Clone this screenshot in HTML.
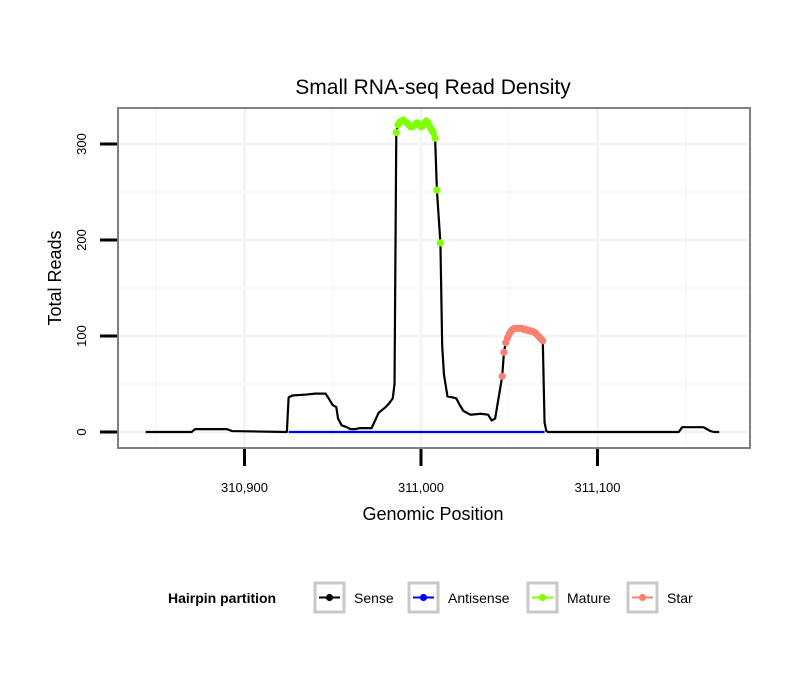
<!DOCTYPE html>
<html><head><meta charset="utf-8"><style>
body{margin:0;background:#fff;font-family:"Liberation Sans",sans-serif}
svg text{font-family:"Liberation Sans",sans-serif}
</style></head><body>
<svg id="chart" width="810" height="690" xmlns="http://www.w3.org/2000/svg">
<rect width="810" height="690" fill="#fff"/>
<text x="433" y="94" font-size="21" text-anchor="middle">Small RNA-seq Read Density</text>
<g id="grid"></g>
<g id="series"></g>
<rect x="118" y="108" width="632" height="340" fill="none" stroke="#808080" stroke-width="2"/>
<g id="axes"></g>
<text x="433" y="520" font-size="18" text-anchor="middle">Genomic Position</text>
<text transform="translate(61,278) rotate(-90)" font-size="18" text-anchor="middle">Total Reads</text>
<g id="legend">
<text x="168" y="603" font-size="14" font-weight="bold">Hairpin partition</text>
</g>
</svg>
<script>
const senseBasePos=[310844,310870,310872,310890,310893,310924,310925,310927,310935,310940,310946,310948,310950,310952,310953,310955,310958,310960,310963,310965,310972,310974,310976,310978,310980,310982,310984,310985,
311012,311013,311015,311018,311020,311022,311024,311026,311028,311034,311038,311040,311042,311043,
311070,311071,311072,311146,311148,311160,311162,311164,311166,311169];
const senseBaseVal=[0,0,3,3,1,0,36,38,39,40,40,34,28,26,14,7,5,3,3,4,4,12,20,23,26,30,35,50,
90,60,37,36,35,28,22,20,18,19,18,12,14,25,
10,1,0,0,5,5,3,1,0,0];
const maturePos=[310986,310987,310988,310989,310990,310991,310992,310993,310994,310995,310996,310997,310998,310999,311000,311001,311002,311003,311004,311005,311006,311007,311008,311009,311011];
const matureVal=[312,320,323,324,325,323,322,320,318,318,319,321,322,320,318,319,322,324,322,318,315,312,306,252,197];
const starPos=[311046,311047,311048,311049,311050,311051,311052,311053,311054,311055,311056,311057,311058,311059,311060,311061,311062,311063,311064,311065,311066,311067,311068,311069];
const starVal=[58,83,93,98,102,105,107,108,108,108,108,108,107,107,106,106,105,105,104,103,101,99,97,95];
const antisensePos=[310925,311070];
const antisenseVal=[0,0];
const xTicks=[310900,311000,311100];
const xTickLabels=["310,900","311,000","311,100"];
const yTicks=[0,100,200,300];
const yTickLabels=["0","100","200","300"];
const legendLabels=["Sense","Antisense","Mature","Star"];
const legendColors=["#000000","#0000ff","#7fff00","#fa8072"];

const xs=p=>421+(p-311000)*1.765;
const ys=v=>432-v*0.96;
const NS="http://www.w3.org/2000/svg";
function mk(parent,tag,attrs){const e=document.createElementNS(NS,tag);for(const k in attrs)e.setAttribute(k,attrs[k]);parent.appendChild(e);return e;}
const grid=document.getElementById('grid'),series=document.getElementById('series'),axes=document.getElementById('axes'),legend=document.getElementById('legend');
for(let i=0;i<xTicks.length;i++){
  let l=mk(grid,'line',{x1:xs(xTicks[i]),x2:xs(xTicks[i]),y1:109,y2:447,stroke:'#f4f4f4','stroke-width':3});
  
  
}
for(let i=0;i<=xTicks.length;i++){
  const p=xTicks[0]-50+i*100;
  let l=mk(grid,'line',{x1:xs(p),x2:xs(p),y1:109,y2:447,stroke:'#f9f9f9','stroke-width':2});
  
  
}
for(let i=0;i<yTicks.length;i++){
  let l=mk(grid,'line',{x1:119,x2:749,y1:ys(yTicks[i]),y2:ys(yTicks[i]),stroke:'#f4f4f4','stroke-width':3});
  
  
  if(i<yTicks.length-1){
    const m=(yTicks[i]+yTicks[i+1])/2;
    let l2=mk(grid,'line',{x1:119,x2:749,y1:ys(m),y2:ys(m),stroke:'#f9f9f9','stroke-width':2});
    
    
  }
}
let pts=[];
senseBasePos.forEach((p,i)=>pts.push([p,senseBaseVal[i]]));
maturePos.forEach((p,i)=>pts.push([p,matureVal[i]]));
starPos.forEach((p,i)=>pts.push([p,starVal[i]]));
pts.sort((a,b)=>a[0]-b[0]);
let sl=mk(series,'polyline',{points:pts.map(q=>xs(q[0])+','+ys(q[1])).join(' '),fill:'none',stroke:'#000','stroke-width':2.2,'stroke-linejoin':'round'});


let al=mk(series,'polyline',{points:antisensePos.map((p,i)=>xs(p)+','+ys(antisenseVal[i])).join(' '),fill:'none',stroke:'#0000ff','stroke-width':2.2});


maturePos.forEach((p,i)=>{
  let c=mk(series,'circle',{cx:xs(p),cy:ys(matureVal[i]),r:3.6,fill:'#7fff00'});
  
  
});
starPos.forEach((p,i)=>{
  let c=mk(series,'circle',{cx:xs(p),cy:ys(starVal[i]),r:3.6,fill:'#fa8072'});
  
  
});
xTicks.forEach((t,i)=>{
  let l=mk(axes,'line',{x1:xs(t),x2:xs(t),y1:449,y2:466,stroke:'#000','stroke-width':3});
  
  
  let tx=mk(axes,'text',{x:xs(t),y:492,'font-size':13,'text-anchor':'middle'});
  tx.textContent=xTickLabels[i];
  
  
});
yTicks.forEach((t,i)=>{
  let l=mk(axes,'line',{x1:100,x2:117,y1:ys(t),y2:ys(t),stroke:'#000','stroke-width':3});
  
  
  let tx=mk(axes,'text',{transform:'translate(86,'+ys(t)+') rotate(-90)','font-size':13,'text-anchor':'middle'});
  tx.textContent=yTickLabels[i];
  
  
});
const lx=[315,409,528,628];
legendLabels.forEach((lab,i)=>{
  const x=lx[i];
  let g=mk(legend,'g',{});
  
  
  mk(g,'rect',{x:x,y:583,width:29,height:29,fill:'#fff',stroke:'#c8c8c8','stroke-width':3});
  mk(g,'line',{x1:x+4,x2:x+25,y1:597.5,y2:597.5,stroke:legendColors[i],'stroke-width':2});
  mk(g,'circle',{cx:x+14.5,cy:597.5,r:3.6,fill:legendColors[i]});
  let t=mk(g,'text',{x:x+39,y:603,'font-size':14});
  t.textContent=lab;
});
</script>
</body></html>
